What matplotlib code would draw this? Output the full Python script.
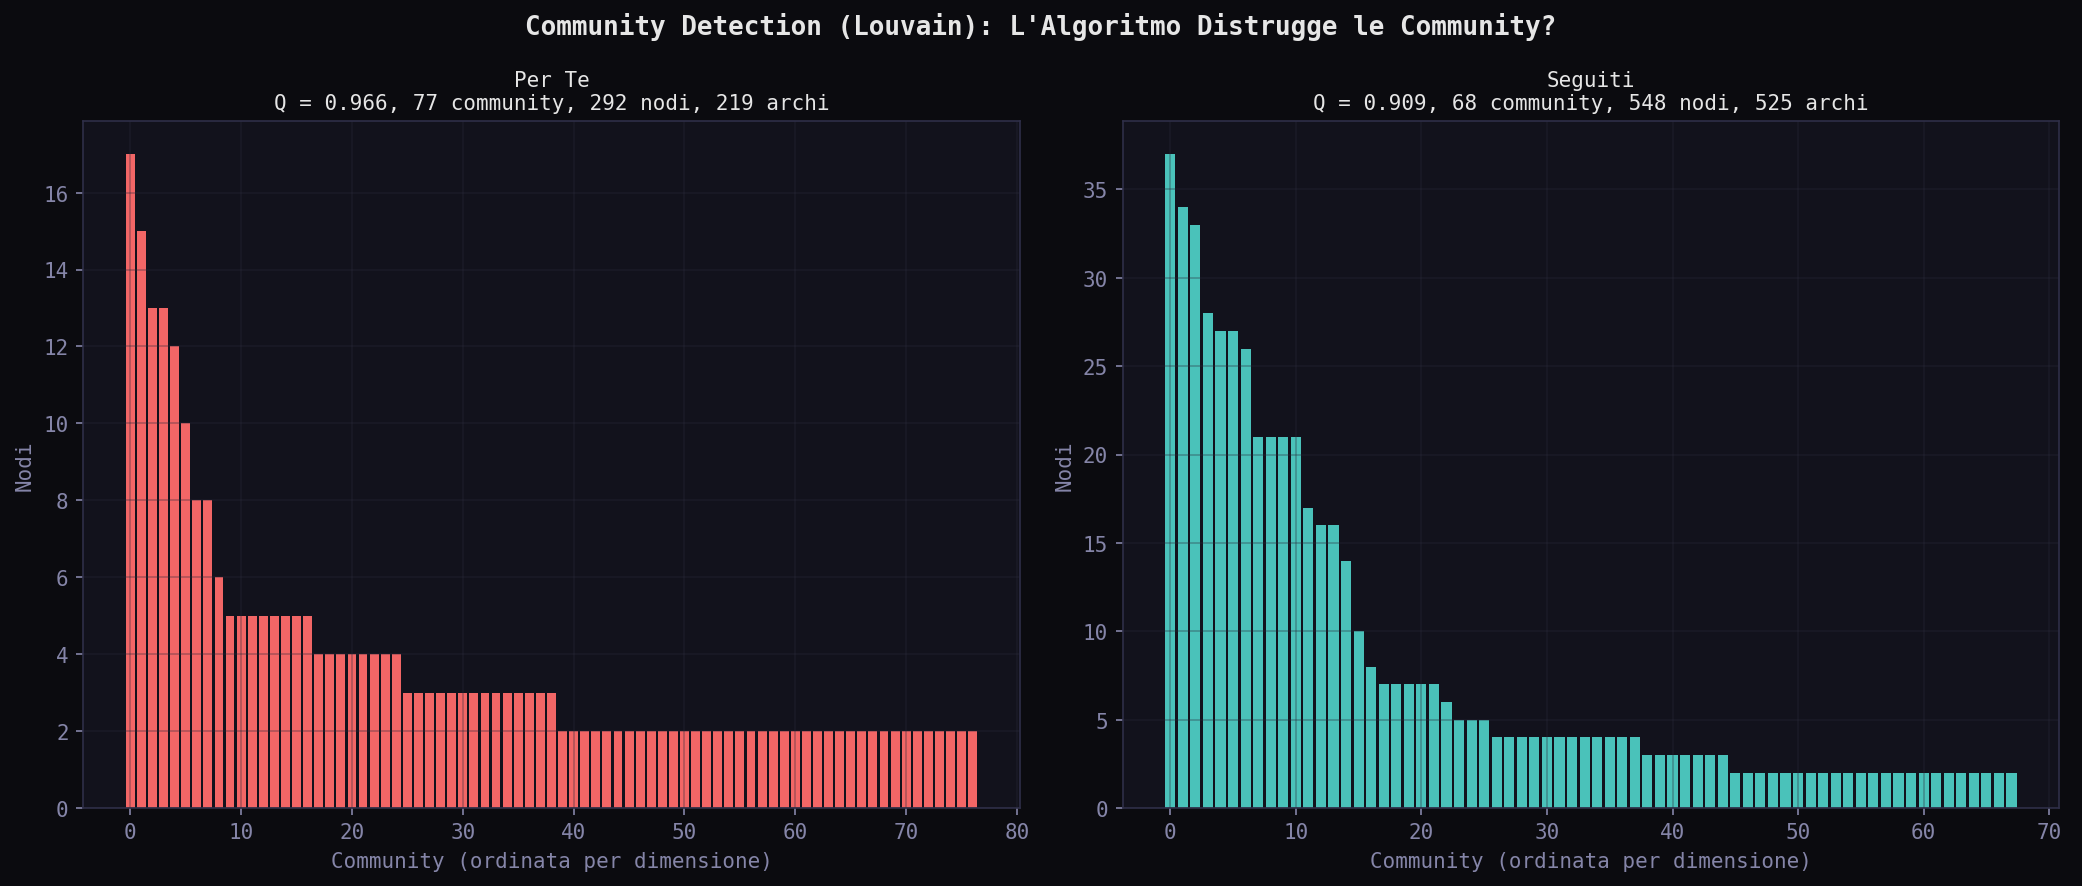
import numpy as np
import matplotlib
matplotlib.use('Agg')
import matplotlib.pyplot as plt

# community sizes, sorted by size
per_te = [17, 15, 13, 13, 12, 10, 8, 8, 6] + [5] * 8 + [4] * 8 + [3] * 14 + [2] * 38
seguiti = ([37, 34, 33, 28, 27, 27, 26, 21, 21, 21, 21, 17, 16, 16, 14, 10, 8]
           + [7] * 5 + [6] + [5] * 3 + [4] * 12 + [3] * 7 + [2] * 23)

titles = ['Per Te\nQ = 0.966, 77 community, 292 nodi, 219 archi',
          'Seguiti\nQ = 0.909, 68 community, 548 nodi, 525 archi']
colors = ['#FF6B6B', '#4ECDC4']

BG = '#0b0b0f'
AX_BG = '#12121c'
SPINE = '#2e2e48'
MUTED = '#8585a8'
TEXT = '#e6e6e6'

plt.rcParams['font.family'] = ['DejaVu Sans Mono']

fig, axes = plt.subplots(1, 2, figsize=(13.88, 5.913), dpi=150)
fig.patch.set_facecolor(BG)

for ax, data, title, color in zip(axes, [per_te, seguiti], titles, colors):
    ax.set_facecolor(AX_BG)
    x = np.arange(len(data))
    ax.bar(x, data, width=0.8, color=color, alpha=0.95)
    ax.grid(True, color='#2a2a3a', alpha=0.35, linewidth=0.8)
    ax.set_title(title, color=TEXT, fontsize=10)
    ax.set_xlabel('Community (ordinata per dimensione)', color=MUTED, fontsize=10)
    ax.set_ylabel('Nodi', color=MUTED, fontsize=10)
    ax.tick_params(colors=MUTED, labelsize=10)
    for s in ax.spines.values():
        s.set_color(SPINE)

fig.suptitle("Community Detection (Louvain): L'Algoritmo Distrugge le Community?",
             color=TEXT, fontsize=12.5, fontweight='bold', y=0.985)
fig.subplots_adjust(left=0.04, right=0.989, top=0.862, bottom=0.088, wspace=0.11)

plt.savefig('out.png', facecolor=BG)
